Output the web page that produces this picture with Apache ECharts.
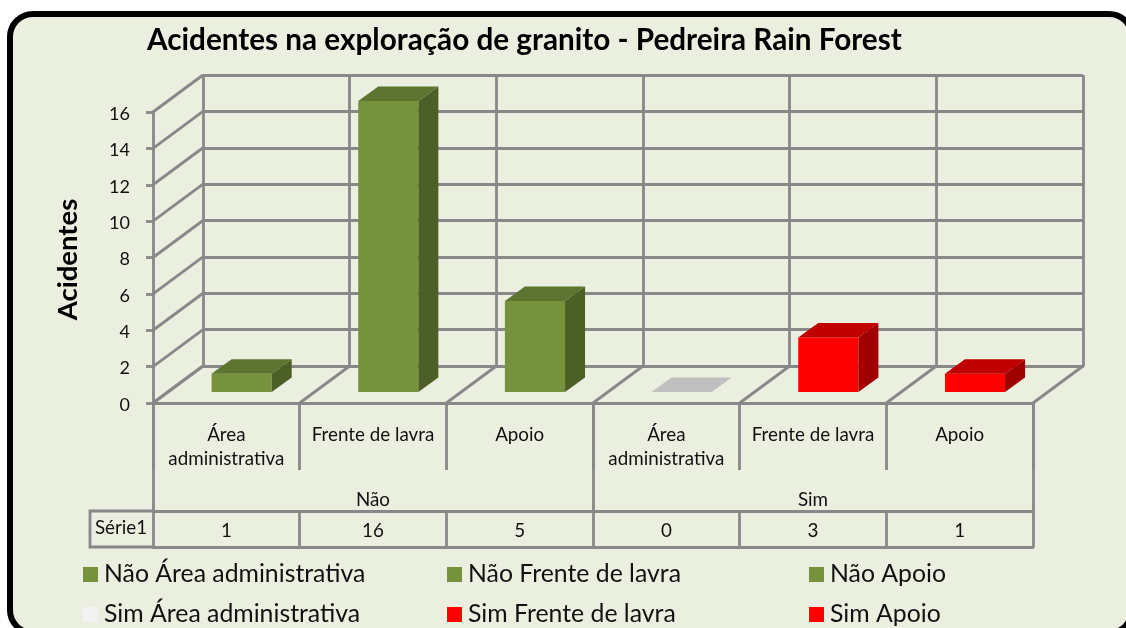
<!DOCTYPE html>
<html><head><meta charset="utf-8">
<style>html,body{margin:0;padding:0;background:#fff}#c{width:1126px;height:628px}</style>
<script src="https://cdn.jsdelivr.net/npm/echarts@6/dist/echarts.min.js"></script>
</head><body><div id="c"></div>
<script>
const titleText = 'Acidentes na exploração de granito - Pedreira Rain Forest';
const yAxisName = 'Acidentes';
const categories = ['Área\nadministrativa', 'Frente de lavra', 'Apoio', 'Área\nadministrativa', 'Frente de lavra', 'Apoio'];
const groups = ['Não', 'Sim'];
const seriesNames = ['Não Área administrativa', 'Não Frente de lavra', 'Não Apoio', 'Sim Área administrativa', 'Sim Frente de lavra', 'Sim Apoio'];
const values = [1, 16, 5, 0, 3, 1];
const tableRowName = 'Série1';
const yTicks = [0, 2, 4, 6, 8, 10, 12, 14, 16];

const GREEN = { front: '#76923c', top: '#5d7530', side: '#4c5f27' };
const RED = { front: '#ff0000', top: '#c00000', side: '#a00000' };
const GREY = { front: '#f2f2f2', top: '#bfbfbf', side: '#bfbfbf' };
const palette = [GREEN, GREEN, GREEN, GREY, RED, RED];

const LINE = '#888888', LW = 2.8, FONT = 'Lato', INK = '#111111';
const lineStyle = { color: LINE, width: LW };
const WALL_DX = 50, WALL_DY = -37;           // depth of the floor
const BAR_DX = 15.3, BAR_DY = -11;           // bar's front plane on the floor
const BAR_DEPTH_X = 20, BAR_DEPTH_Y = -14.5; // bar's own depth

function seg(x1, y1, x2, y2) {
  return { type: 'line', shape: { x1, y1, x2, y2 }, style: { stroke: LINE, lineWidth: LW, fill: null } };
}
function rungs(params, api) {
  const p = api.coord([0, api.value(0)]), w = api.size([1, 0])[0], x = p[0] - w / 2;
  return seg(x, p[1], x + WALL_DX, p[1] + WALL_DY);
}
function floorLines(params, api) {
  const i = api.value(0), p = api.coord([i, 0]), w = api.size([1, 0])[0];
  const out = [seg(p[0] - w / 2, p[1], p[0] - w / 2 + WALL_DX, p[1] + WALL_DY)];
  if (i === categories.length - 1) out.push(seg(p[0] + w / 2, p[1], p[0] + w / 2 + WALL_DX, p[1] + WALL_DY));
  return { type: 'group', children: out };
}
function bar3d(pal) {
  return function (params, api) {
    const i = api.value(0), v = api.value(1);
    const base = api.coord([i, 0]), top = api.coord([i, v]), w = api.size([1, 0])[0];
    const bw = w * 0.41, x0 = base[0] + BAR_DX - bw / 2, x1 = x0 + bw, y0 = base[1] + BAR_DY, y1 = top[1] + BAR_DY;
    const dx = BAR_DEPTH_X, dy = BAR_DEPTH_Y, kids = [];
    if (v > 0) {
      kids.push({ type: 'polygon', shape: { points: [[x0, y0], [x1, y0], [x1, y1], [x0, y1]] }, style: { fill: pal.front } });
      kids.push({ type: 'polygon', shape: { points: [[x1, y0], [x1 + dx, y0 + dy], [x1 + dx, y1 + dy], [x1, y1]] }, style: { fill: pal.side } });
    }
    kids.push({ type: 'polygon', shape: { points: [[x0, y1], [x1, y1], [x1 + dx, y1 + dy], [x0 + dx, y1 + dy]] }, style: { fill: pal.top } });
    return { type: 'group', children: kids };
  };
}

const barSeries = seriesNames.map((name, i) => ({
  name, type: 'custom', xAxisIndex: 0, yAxisIndex: 0, z: 5,
  itemStyle: { color: palette[i].front },
  encode: { x: 0, y: 1 },
  data: [[i, values[i]]],
  renderItem: bar3d(palette[i])
}));

const legendPos = [[83, 562], [447, 562], [809, 562], [83, 602], [447, 602], [809, 602]];
const legends = seriesNames.map((name, i) => ({
  data: [name], left: legendPos[i][0], top: legendPos[i][1], selectedMode: false, padding: 0,
  icon: 'rect', itemWidth: 15, itemHeight: 15,
  textStyle: { fontFamily: FONT, fontSize: 24.8, color: INK, padding: [0, 0, 0, 1] }
}));

const hiddenAxis = { axisLine: { show: false }, axisTick: { show: false }, axisLabel: { show: false }, splitLine: { show: false } };
const tableLabel = { fontFamily: FONT, fontSize: 18.8, color: INK };

const chart = echarts.init(document.getElementById('c'), null, { renderer: 'canvas' });
chart.setOption({
  animation: false,
  backgroundColor: '#ffffff',
  title: { text: titleText, left: 147, top: 25, padding: 0, textStyle: { fontFamily: FONT, fontWeight: 'bold', fontSize: 29.7, color: '#000' } },
  legend: legends,
  tooltip: { show: false },
  graphic: [
    { type: 'rect', z: -10, silent: true, shape: { x: 10, y: 14, width: 1122, height: 619, r: 23 }, style: { fill: '#ebefdf', stroke: '#000', lineWidth: 6 } },
    { type: 'polyline', z: 3, silent: true, shape: { points: [[153, 511], [90, 511], [90, 547], [153, 547]] }, style: { stroke: LINE, lineWidth: LW, fill: null } },
    { type: 'text', z: 3, silent: true, style: { x: 121, y: 528, text: tableRowName, align: 'center', verticalAlign: 'middle', font: '18.8px ' + FONT, fill: INK } }
  ],
  grid: [
    { left: 153, top: 112, width: 880, height: 291 },
    { left: 203, top: 75, width: 880, height: 291 }
  ],
  xAxis: [
    { gridIndex: 0, type: 'category', data: categories, position: 'bottom',
      axisLine: { onZero: false, lineStyle }, axisTick: { show: true, length: 67, lineStyle },
      axisLabel: { interval: 0, margin: 20, lineHeight: 24, ...tableLabel } },
    { gridIndex: 0, type: 'category', data: groups, position: 'bottom',
      axisLine: { show: false, onZero: false }, axisTick: { show: true, length: 108, lineStyle },
      axisLabel: { interval: 0, margin: 87, ...tableLabel } },
    { gridIndex: 0, type: 'category', data: values.map(String), position: 'bottom', offset: 108,
      axisLine: { onZero: false, lineStyle }, axisTick: { show: true, length: 36, lineStyle },
      axisLabel: { interval: 0, margin: 10, ...tableLabel } },
    { gridIndex: 0, type: 'category', data: values.map(String), position: 'bottom', offset: 144,
      axisLine: { onZero: false, lineStyle }, axisTick: { show: false }, axisLabel: { show: false } },
    { gridIndex: 1, type: 'category', data: categories, position: 'bottom',
      axisLine: { onZero: false, lineStyle }, axisTick: { show: false }, axisLabel: { show: false },
      splitLine: { show: true, interval: 0, lineStyle } }
  ],
  yAxis: [
    { gridIndex: 0, type: 'value', min: 0, max: 16, interval: 2,
      name: yAxisName, nameLocation: 'middle', nameGap: 71,
      nameTextStyle: { fontFamily: FONT, fontWeight: 'bold', fontSize: 27.5, color: '#000', padding: [0, 4, 0, 0] },
      axisLine: { show: true, lineStyle }, axisTick: { show: true, length: 7, lineStyle },
      axisLabel: { margin: 23, fontFamily: FONT, fontSize: 18, color: INK, verticalAlign: 'top', lineHeight: 4 }, splitLine: { show: false } },
    { gridIndex: 1, type: 'value', min: 0, max: 16, interval: 2,
      ...hiddenAxis, splitLine: { show: true, lineStyle } }
  ],
  series: [
    { type: 'custom', name: 'rungs', xAxisIndex: 0, yAxisIndex: 0, z: 3, silent: true,
      encode: { y: 0 }, data: yTicks.map(v => [v]), renderItem: rungs },
    { type: 'custom', name: 'floor', xAxisIndex: 0, yAxisIndex: 0, z: 3, silent: true,
      encode: { x: 0 }, data: categories.map((c, i) => [i]), renderItem: floorLines },
    ...barSeries
  ]
});
</script></body></html>
